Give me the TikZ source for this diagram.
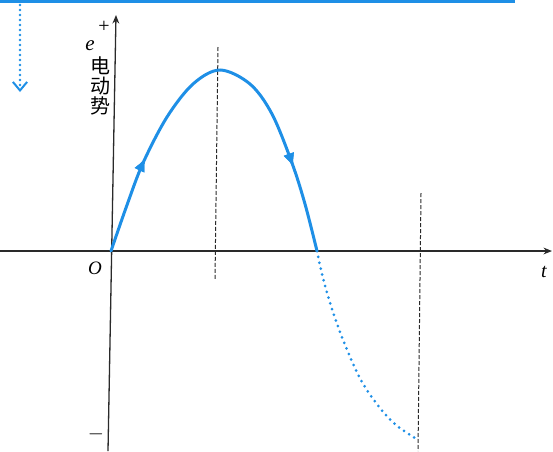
\documentclass[tikz,border=0pt]{standalone}
\usepackage{fontspec}
\setmainfont{Liberation Serif}
\newfontfamily\cjk{Noto Sans CJK SC}
\usepackage{xcolor}
\definecolor{curve}{HTML}{1E8FE6}
\definecolor{ink}{HTML}{2A2A2A}
\usepackage{tikz}
\usetikzlibrary{arrows.meta,decorations.markings}
\tikzset{
  >={Stealth[length=3mm,width=2.4mm]},
  axis/.style={->,draw=ink,line width=1.3pt},
  guide/.style={draw=ink,line width=1pt,dash pattern=on 4pt off 2pt},
  wave/.style={draw=curve,line width=3pt,line cap=round},
  dotwave/.style={draw=curve,line width=3pt,line cap=round,dash pattern=on 0pt off 6pt},
  lab/.style={inner sep=0pt,font=\fontsize{20}{22}\selectfont},
  cjklab/.style={inner sep=0pt,font=\fontsize{20}{20}\selectfont\cjk,align=center},
  midarrow/.style={postaction={decorate},decoration={markings,
    mark=at position #1 with {\arrow[curve]{Latex[length=5mm,width=4mm]}}}},
}

\begin{document}
\begin{tikzpicture}[x=1pt,y=-1pt]
\useasboundingbox (0,0) rectangle (553,451);
% frame bits
\draw[draw=curve,line width=3.5pt] (0,1.5) -- (515,1.5);
\coordinate (dt) at (20,0);
\coordinate (db) at (20,92);
\draw[draw=curve,line width=2.6pt,line cap=round,dash pattern=on 0pt off 5pt,
  -{Straight Barb[length=3mm,width=5mm,line width=2pt]}] (dt) -- (db);
% axes
\coordinate (O) at (111,251);
\coordinate (xl) at (0,251);
\coordinate (xr) at (552,251);
\coordinate (yb) at (108,451);
\coordinate (yt) at (116,15);
\draw[axis] (xl) -- (xr);
\draw[axis] (yb) -- (yt);
% guides
\coordinate (g1t) at (218,47);
\coordinate (g1b) at (215,279);
\coordinate (g2t) at (421,193);
\coordinate (g2b) at (418,451);
\draw[guide] (g1t) -- (g1b);
\draw[guide] (g2t) -- (g2b);
% emf curve
\draw[wave,midarrow=0.23,midarrow=0.8] plot[smooth,tension=0.55] coordinates
  {(111,251) (127,205) (143,163) (167,117) (193,84) (220,70) (250,84) (272,114) (292,163) (305,204) (317,251)};
\draw[dotwave] plot[smooth,tension=0.6] coordinates
  {(317,251) (324,282) (335,318) (348,352) (362,382) (380,408) (396,425) (415,438)};
% labels
\node[lab] (plus) at (104,27) {+};
\node[lab,font=\fontsize{21}{22}\selectfont\itshape] (e) at (90,46) {e};
\node[cjklab] (emf) at (100,86) {电\\动\\势};
\node[lab,font=\fontsize{19}{20}\selectfont\itshape] (o) at (95,268) {O};
\node[lab,font=\fontsize{20}{22}\selectfont\itshape] (t) at (544,272) {t};
\node[lab] (minus) at (96,434) {$-$};
\end{tikzpicture}
\end{document}
